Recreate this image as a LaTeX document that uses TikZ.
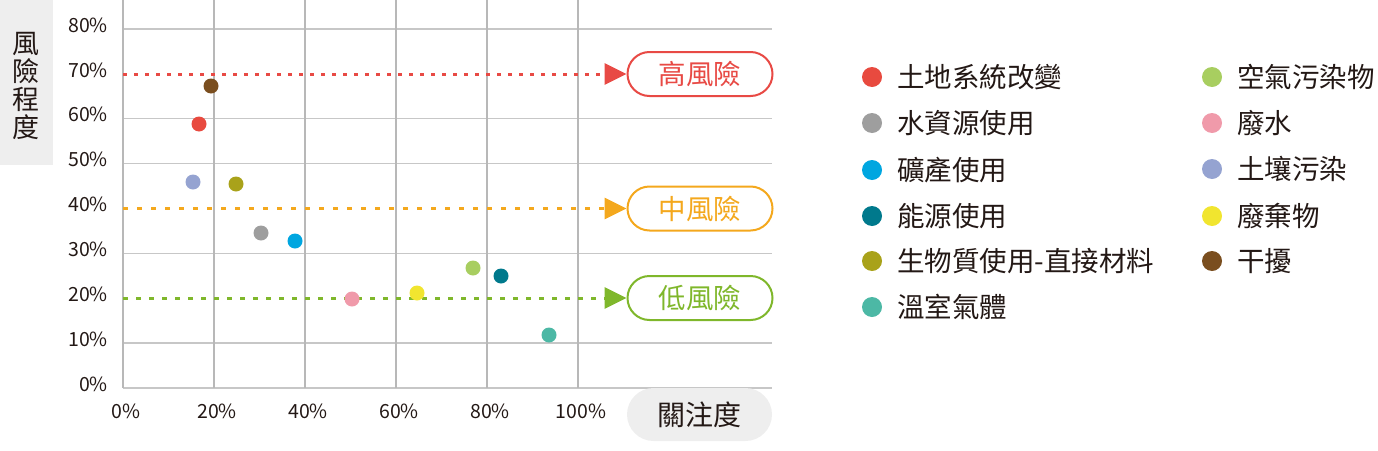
\documentclass[tikz,border=0pt]{standalone}
\usepackage{fontspec}
\setmainfont{Noto Sans CJK TC}
\usetikzlibrary{arrows.meta,shapes.misc}
\definecolor{cRed}{HTML}{E84A3F}
\definecolor{cGray}{HTML}{9E9E9E}
\definecolor{cBlue}{HTML}{00A6E0}
\definecolor{cTeal}{HTML}{00798C}
\definecolor{cOlive}{HTML}{A9A21A}
\definecolor{cTurq}{HTML}{4CB8A5}
\definecolor{cLGreen}{HTML}{A8CE60}
\definecolor{cPink}{HTML}{F09AAA}
\definecolor{cLav}{HTML}{95A3D1}
\definecolor{cYellow}{HTML}{F1E52F}
\definecolor{cBrown}{HTML}{7A4E1F}
\definecolor{rHigh}{HTML}{E84A45}
\definecolor{rMid}{HTML}{F4A81D}
\definecolor{rLow}{HTML}{7FB72B}
\definecolor{boxGray}{HTML}{EEEEEE}
\definecolor{txt}{HTML}{231815}
\begin{document}
\begin{tikzpicture}[x=1pt,y=-1pt,
  vgrid/.style={draw=black!28,line width=1.4pt},
  hgrid/.style={draw=black!22,line width=1.4pt},
  tick/.style={font=\fontsize{19.5}{19.5}\selectfont,text=txt,inner sep=0pt},
  pdot/.style={circle,inner sep=0pt,minimum size=15pt},
  ldot/.style={circle,inner sep=0pt,minimum size=20pt},
  ltext/.style={anchor=west,inner sep=0pt,font=\fontsize{27.5}{27.5}\selectfont,text=txt},
  pill/.style={rounded rectangle,line width=2pt,minimum width=145pt,minimum height=44pt,inner sep=0pt,font=\fontsize{27.5}{27.5}\selectfont,fill=white},
  riskline/.style={line width=3pt,-{Triangle[length=22pt,width=21pt]}}
]
\useasboundingbox (0,0) rectangle (1378,450);
% y-axis label box
\node[fill=boxGray,anchor=north west,minimum width=53pt,minimum height=165pt,inner sep=0pt] (ybox) at (0,0) {};
\node[align=center,font=\fontsize{27}{28}\selectfont,text=txt,inner sep=0pt] (ylab) at (26,86) {風\\險\\程\\度};
% grid
\foreach \p/\n in {0/g0,10/g10,30/g30,50/g50,60/g60,80/g80}{
  \coordinate (\n l) at (123,{388-4.4875*\p});
  \coordinate (\n r) at (772,{388-4.4875*\p});
  \draw[hgrid] (\n l) -- (\n r);
}
\foreach \p/\n in {0/v0,20/v20,40/v40,60/v60,80/v80,100/v100}{
  \coordinate (\n t) at ({123+4.55*\p},0);
  \coordinate (\n b) at ({123+4.55*\p},388);
  \draw[vgrid] (\n t) -- (\n b);
}
% y ticks
\foreach \p in {0,10,...,80}{
  \node[tick,anchor=east] (yt\p) at (108,{384-4.4875*\p}) {\p\%};
}
% x ticks
\foreach \p in {0,20,...,100}{
  \node[tick] (xt\p) at ({126+4.55*\p},411) {\p\%};
}
% x-axis label
\node[rounded rectangle,fill=boxGray,minimum width=145pt,minimum height=53pt,inner sep=0pt,font=\fontsize{28}{28}\selectfont,text=txt] (xlab) at (699.5,414.5) {關注度};
% risk levels
\node[pill,draw=rHigh,text=rHigh] (high) at (700,74) {高風險};
\node[pill,draw=rMid,text=rMid] (mid) at (700,208.5) {中風險};
\node[pill,draw=rLow,text=rLow] (low) at (700,298) {低風險};
\coordinate (hs) at (123,74);
\coordinate (ms) at (123,208.5);
\coordinate (ls) at (123,298);
\draw[riskline,rHigh,dash pattern=on 4pt off 7pt] (hs) -- (high.west);
\draw[riskline,rMid,dash pattern=on 5pt off 9pt] (ms) -- (mid.west);
\draw[riskline,rLow,dash pattern=on 5pt off 8pt] (ls) -- (low.west);
% data points
\node[pdot,fill=cBrown] (p11) at (211,86) {};
\node[pdot,fill=cRed] (p1) at (199,124) {};
\node[pdot,fill=cLav] (p9) at (193,182) {};
\node[pdot,fill=cOlive] (p5) at (236,184) {};
\node[pdot,fill=cGray] (p2) at (261,233) {};
\node[pdot,fill=cBlue] (p3) at (295,241) {};
\node[pdot,fill=cPink] (p8) at (352,299) {};
\node[pdot,fill=cYellow] (p10) at (417,293) {};
\node[pdot,fill=cLGreen] (p7) at (473,268) {};
\node[pdot,fill=cTeal] (p4) at (501,276) {};
\node[pdot,fill=cTurq] (p6) at (549,335) {};
% legend left column
\node[ldot,fill=cRed] (ld1) at (872,77) {};
\node[ltext] (lt1) at (897,77) {土地系統改變};
\node[ldot,fill=cGray] (ld2) at (872,123) {};
\node[ltext] (lt2) at (897,123) {水資源使用};
\node[ldot,fill=cBlue] (ld3) at (872,170) {};
\node[ltext] (lt3) at (897,170) {礦產使用};
\node[ldot,fill=cTeal] (ld4) at (872,216) {};
\node[ltext] (lt4) at (897,216) {能源使用};
\node[ldot,fill=cOlive] (ld5) at (872,261) {};
\node[ltext] (lt5) at (897,261) {生物質使用-直接材料};
\node[ldot,fill=cTurq] (ld6) at (872,307) {};
\node[ltext] (lt6) at (897,307) {溫室氣體};
% legend right column
\node[ldot,fill=cLGreen] (ld7) at (1212,77) {};
\node[ltext] (lt7) at (1237,77) {空氣污染物};
\node[ldot,fill=cPink] (ld8) at (1212,123) {};
\node[ltext] (lt8) at (1237,123) {廢水};
\node[ldot,fill=cLav] (ld9) at (1212,169) {};
\node[ltext] (lt9) at (1237,169) {土壤污染};
\node[ldot,fill=cYellow] (ld10) at (1212,216) {};
\node[ltext] (lt10) at (1237,216) {廢棄物};
\node[ldot,fill=cBrown] (ld11) at (1212,261) {};
\node[ltext] (lt11) at (1237,261) {干擾};
\end{tikzpicture}
\end{document}
